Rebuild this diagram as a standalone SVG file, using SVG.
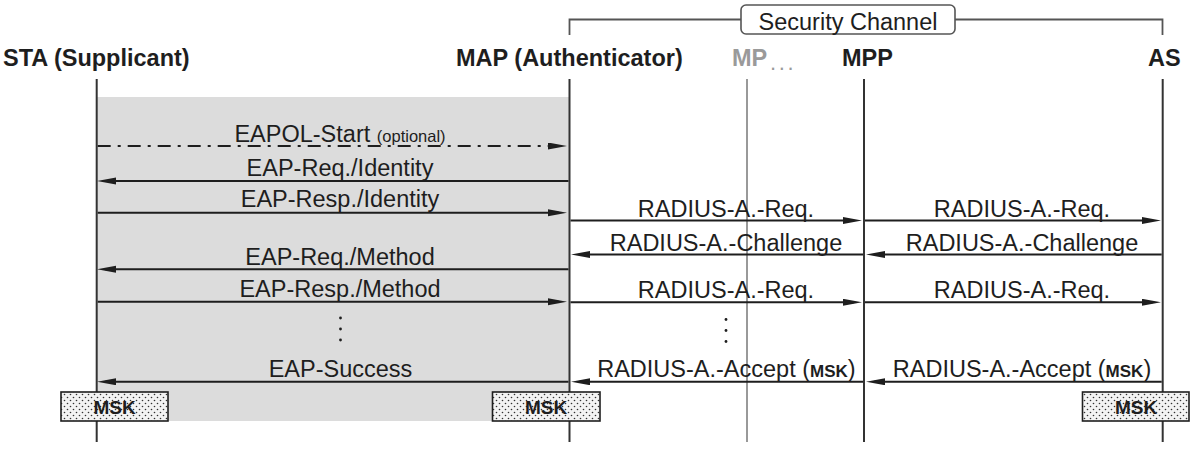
<svg xmlns="http://www.w3.org/2000/svg" width="1200" height="459" viewBox="0 0 1200 459">
<style>
text{font-family:"Liberation Sans",Arial,Helvetica,sans-serif;fill:#1e1e1e}
.hdr{font-size:23.5px;font-weight:bold}
.lbl{font-size:23.5px;text-anchor:middle}
.life{stroke:#333;stroke-width:2;fill:none}
.msg{stroke:#1e1e1e;stroke-width:2;fill:none;marker-end:url(#ah)}
.dash{stroke-dasharray:13 7 3 7}
.msk{fill:url(#dots);stroke:#1e1e1e;stroke-width:1.6}
.msktxt{font-size:19px;font-weight:bold;text-anchor:middle}
.dot{fill:#1e1e1e}
</style>
<defs>
<marker id="ah" markerUnits="userSpaceOnUse" markerWidth="20" markerHeight="8" refX="11" refY="3.5" orient="auto">
<path d="M0,0 L19,3.5 L0,7 z" fill="#1e1e1e"/>
</marker>
<pattern id="dots" width="6" height="6" patternUnits="userSpaceOnUse">
<rect width="6" height="6" fill="#f3f3f3"/>
<circle cx="1.5" cy="1.5" r="0.8" fill="#333"/>
<circle cx="4.5" cy="4.5" r="0.8" fill="#333"/>
</pattern>
</defs>
<rect width="1200" height="459" fill="#fff"/>
<rect id="eap-area" x="97" y="97" width="472" height="324" fill="#dcdcdc"/>
<g id="security-channel">
<path d="M569.5,35 V19.5 H741 M955,19.5 H1162.5 V35" stroke="#555" stroke-width="1.8" fill="none"/>
<rect x="741" y="5" width="214" height="29" rx="5" fill="#fff" stroke="#555" stroke-width="1.6"/>
<text x="848" y="29.5" class="lbl">Security Channel</text>
</g>
<g id="sta">
<text x="3" y="66" class="hdr">STA (Supplicant)</text>
<line x1="96.7" y1="79" x2="96.7" y2="442" class="life"/>
</g>
<g id="map">
<text x="456" y="66" class="hdr">MAP (Authenticator)</text>
<line x1="569.5" y1="79" x2="569.5" y2="442" class="life"/>
</g>
<g id="mp">
<text x="732" y="66" class="hdr" style="fill:#9a9a9a">MP</text>
<text x="770" y="70" style="font-size:22px;fill:#9a9a9a;letter-spacing:2.6px">...</text>
<line x1="747" y1="79" x2="747" y2="442" class="life" style="stroke:#999"/>
</g>
<g id="mpp">
<text x="842" y="66" class="hdr">MPP</text>
<line x1="864" y1="79" x2="864" y2="442" class="life"/>
</g>
<g id="as">
<text x="1148" y="66" class="hdr">AS</text>
<line x1="1162.7" y1="79" x2="1162.7" y2="442" class="life"/>
</g>
<g id="connectors">
<line x1="97.7" y1="146" x2="559" y2="146" class="msg dash"/>
<line x1="568.5" y1="181" x2="105" y2="181" class="msg"/>
<line x1="97.7" y1="212.7" x2="559" y2="212.7" class="msg"/>
<line x1="570.5" y1="220.5" x2="854" y2="220.5" class="msg"/>
<line x1="865" y1="220.5" x2="1153" y2="220.5" class="msg"/>
<line x1="1161.7" y1="254.5" x2="874" y2="254.5" class="msg"/>
<line x1="863" y1="254.5" x2="579" y2="254.5" class="msg"/>
<line x1="568.5" y1="269.3" x2="105" y2="269.3" class="msg"/>
<line x1="97.7" y1="301.7" x2="559" y2="301.7" class="msg"/>
<line x1="570.5" y1="302.3" x2="854" y2="302.3" class="msg"/>
<line x1="865" y1="302.3" x2="1153" y2="302.3" class="msg"/>
<line x1="568.5" y1="381.7" x2="105" y2="381.7" class="msg"/>
<line x1="1161.7" y1="381.7" x2="874" y2="381.7" class="msg"/>
<line x1="863" y1="381.7" x2="579" y2="381.7" class="msg"/>
</g>
<g id="labels">
<text x="340" y="142" class="lbl">EAPOL-Start <tspan style="font-size:16.5px">(optional)</tspan></text>
<text x="340" y="176" class="lbl">EAP-Req./Identity</text>
<text x="340" y="207" class="lbl">EAP-Resp./Identity</text>
<text x="726" y="216.5" class="lbl">RADIUS-A.-Req.</text>
<text x="1022" y="216.5" class="lbl">RADIUS-A.-Req.</text>
<text x="726" y="250.5" class="lbl">RADIUS-A.-Challenge</text>
<text x="1022" y="250.5" class="lbl">RADIUS-A.-Challenge</text>
<text x="340" y="265" class="lbl">EAP-Req./Method</text>
<text x="340" y="297" class="lbl">EAP-Resp./Method</text>
<text x="726" y="298" class="lbl">RADIUS-A.-Req.</text>
<text x="1022" y="298" class="lbl">RADIUS-A.-Req.</text>
<text x="340.5" y="377" class="lbl">EAP-Success</text>
<text x="726.4" y="377" class="lbl">RADIUS-A.-Accept (<tspan style="font-size:17px;font-weight:bold">MSK</tspan>)</text>
<text x="1022" y="377" class="lbl">RADIUS-A.-Accept (<tspan style="font-size:17px;font-weight:bold">MSK</tspan>)</text>
<circle cx="340.5" cy="318" r="1.4" class="dot"/>
<circle cx="340.5" cy="329" r="1.4" class="dot"/>
<circle cx="340.5" cy="340" r="1.4" class="dot"/>
<circle cx="726" cy="319.5" r="1.4" class="dot"/>
<circle cx="726" cy="330.5" r="1.4" class="dot"/>
<circle cx="726" cy="341.5" r="1.4" class="dot"/>
</g>
<g id="msk-sta">
<rect x="61" y="392" width="107" height="29" class="msk"/>
<text x="114.5" y="414" class="msktxt">MSK</text>
</g>
<g id="msk-map">
<rect x="492.5" y="392" width="107.5" height="29" class="msk"/>
<text x="546" y="414" class="msktxt">MSK</text>
</g>
<g id="msk-as">
<rect x="1082.5" y="392" width="106.5" height="29" class="msk"/>
<text x="1136" y="414" class="msktxt">MSK</text>
</g>
</svg>
